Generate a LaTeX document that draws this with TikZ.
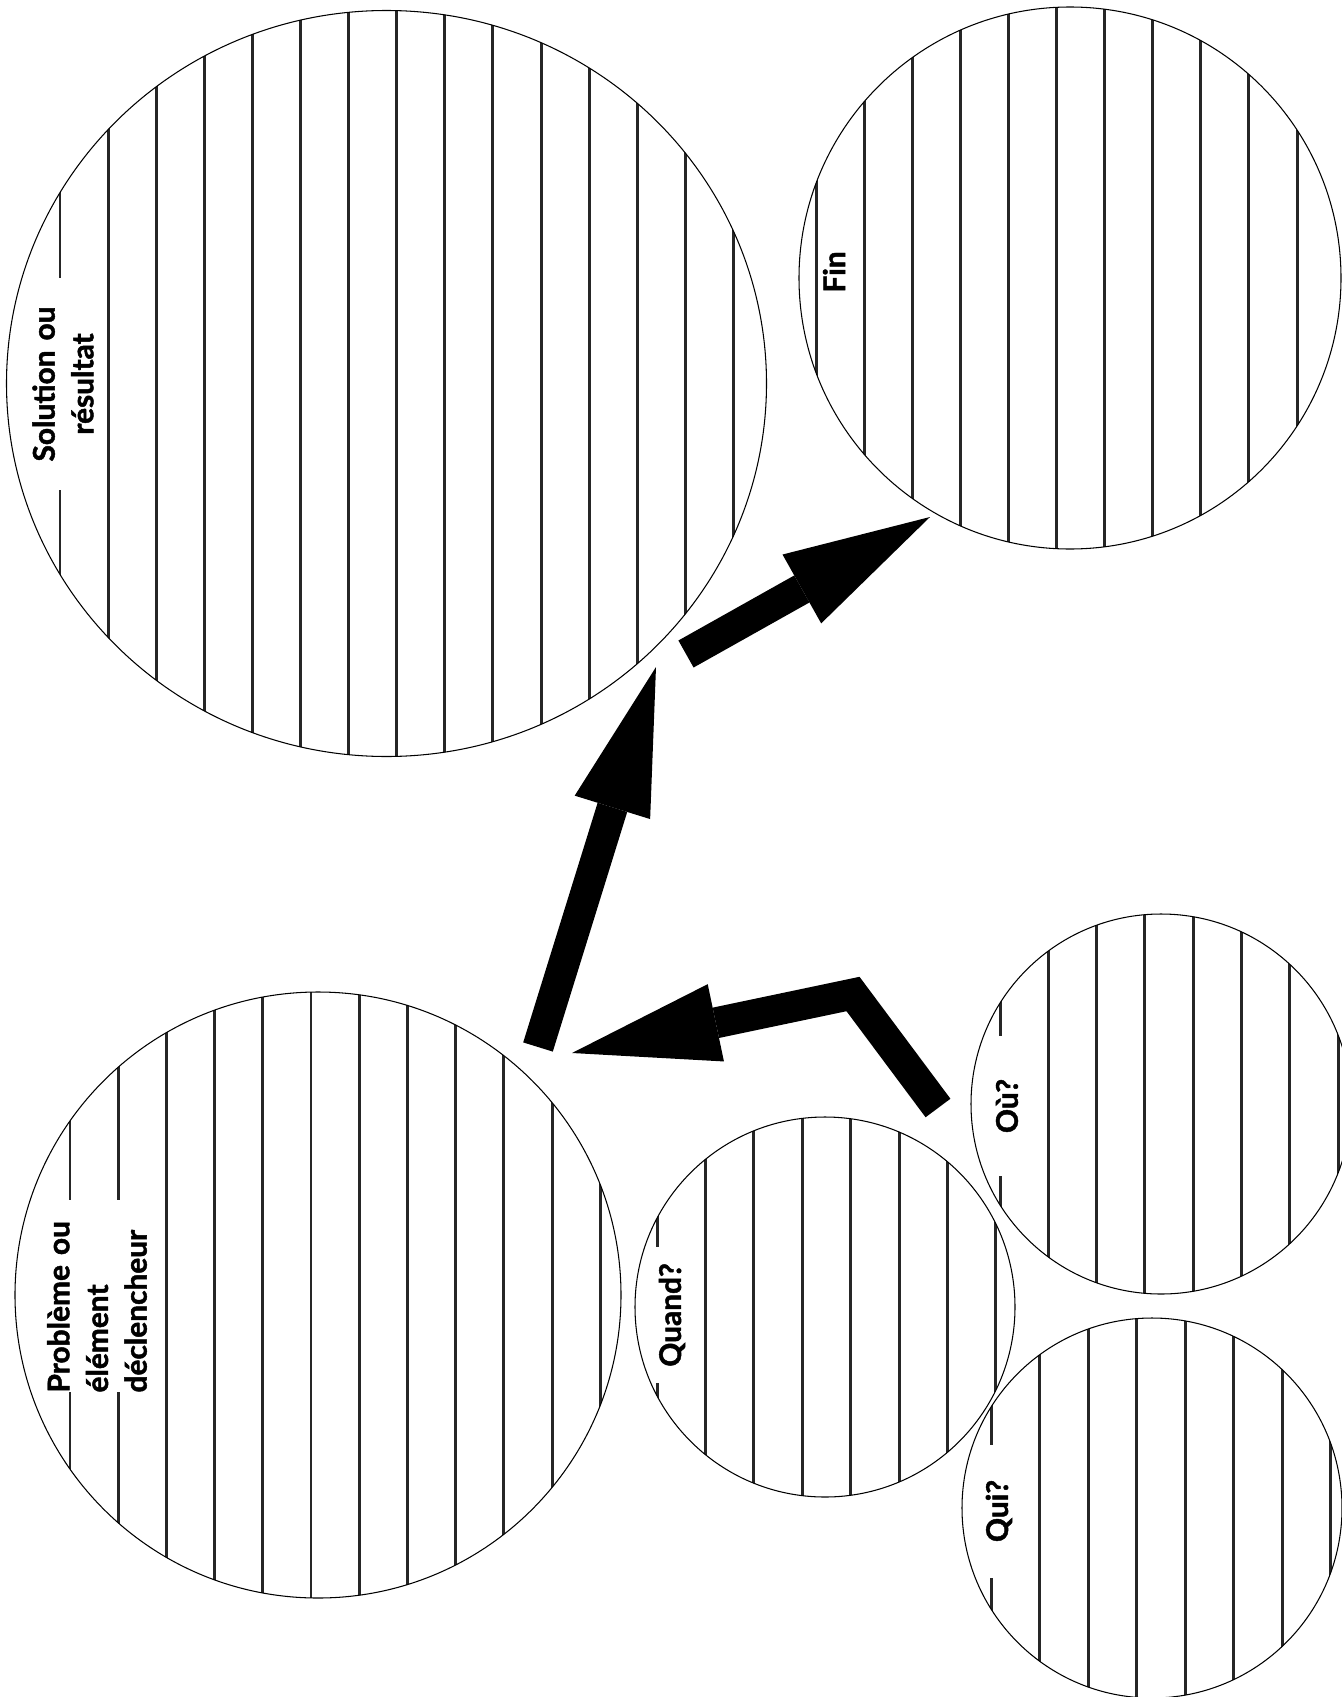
\documentclass[tikz,border=0pt]{standalone}
\usepackage{fontspec}
\setmainfont{Lato}[BoldFeatures = {FakeBold = 1.5}]
\usetikzlibrary{arrows.meta}

\tikzset{
	rim/.style = {line width = 0.6pt},
	ruling/.style = {line width = 1.7pt, black!85},
	tag/.style = {rotate = 90, fill = white, inner xsep = 0pt, inner ysep = 3pt, font = \bfseries\fontsize{17}{22}\selectfont},
	block arrow/.style = {line width = 0.62cm, -{Triangle[length = 2.94cm, width = 1.58cm, line width = 0pt]}}
}

\begin{document}
\begin{tikzpicture}[x = 0.02cm, y = -0.02cm]
			\useasboundingbox (0,0) rectangle (1342,1697);

			\coordinate (solution) at (386.5,383.5);
			\coordinate (fin) at (1070,278);
			\coordinate (probleme) at (318,1295);
			\coordinate (quand) at (825,1307);
			\coordinate (ou) at (1161,1104);
			\coordinate (qui) at (1152,1508);

			% ruled lines, clipped to each circle
			\begin{scope}
				\clip (solution) ellipse (380 and 373);
				\foreach \x in {60,108.1,...,734}
				{
					\draw [ruling] (\x,0) -- (\x,770);
				}
			\end{scope}

			\begin{scope}
				\clip (fin) circle (271);
				\foreach \x in {816,864.1,...,1300}
				{
					\draw [ruling] (\x,0) -- (\x,560);
				}
			\end{scope}

			\begin{scope}
				\clip (probleme) circle (303);
				\foreach \x in {70,118.2,...,605}
				{
					\draw [ruling] (\x,980) -- (\x,1610);
				}
			\end{scope}

			\begin{scope}
				\clip (quand) circle (190);
				\foreach \x in {657,705.4,...,1000}
				{
					\draw [ruling] (\x,1110) -- (\x,1510);
				}
			\end{scope}

			\begin{scope}
				\clip (ou) circle (190);
				\foreach \x in {1000,1048.3,...,1340}
				{
					\draw [ruling] (\x,900) -- (\x,1300);
				}
			\end{scope}

			\begin{scope}
				\clip (qui) circle (190);
				\foreach \x in {991,1039.5,...,1335}
				{
					\draw [ruling] (\x,1310) -- (\x,1710);
				}
			\end{scope}

			% labels
			\node [tag, text width = 4.26cm, align = center] (solution label) at (63,384) {Solution ou\\résultat};
			\node [tag, fill = none] (fin label) at (834,272) {Fin};
			\node [tag, text width = 3.86cm, align = left] (probleme label) at (97,1296) {Problème ou\\élément\\déclencheur};
			\node [tag, text width = 2.72cm, align = center] (quand label) at (672,1315) {Quand?};
			\node [tag, text width = 2.8cm, align = center] (ou label) at (1007,1106) {Où?};
			\node [tag, text width = 2.66cm, align = center] (qui label) at (999,1511) {Qui?};

			\draw [rim] (solution) ellipse (380 and 373);
			\draw [rim] (fin) circle (271);
			\draw [rim] (probleme) circle (303);
			\draw [rim] (quand) circle (190);
			\draw [rim] (ou) circle (190);
			\draw [rim] (qui) circle (190);

			% arrows
			\coordinate (trigger out) at (538,1047);
			\coordinate (solution in) at (656,667);
			\coordinate (solution out) at (686,654);
			\coordinate (fin in) at (930,517);
			\coordinate (ou out) at (938,1108);
			\coordinate (bend) at (853,994);
			\coordinate (trigger in) at (572,1053);

			\draw [block arrow] (trigger out) -- (solution in);
			\draw [block arrow] (solution out) -- (fin in);
			\draw [block arrow] (ou out) -- (bend) -- (trigger in);
		\end{tikzpicture}
\end{document}
